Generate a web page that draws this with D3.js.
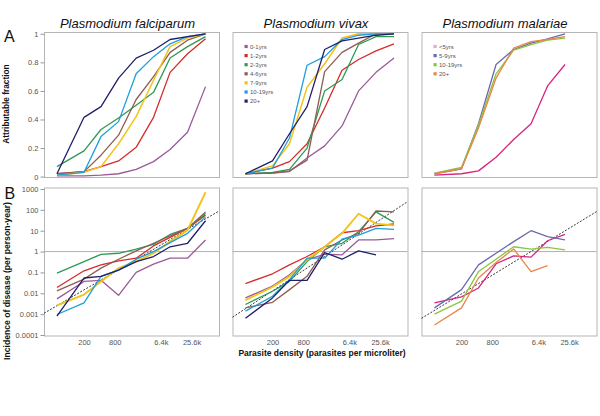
<!DOCTYPE html>
<html><head><meta charset="utf-8">
<script src="https://cdn.jsdelivr.net/npm/d3@7"></script>
<style>body{margin:0;background:#fff}svg{display:block;font-family:Arial,"Liberation Sans",sans-serif}</style>
</head><body><svg id="c" width="600" height="416"></svg>
<script>
// ---------- data ----------
const density = [59, 200, 430, 950, 2100, 4600, 9700, 21300, 48000];
const xTickValues = [200, 800, 6400, 25600];
const xTickLabels = ["200", "800", "6.4k", "25.6k"];
const fracTicks = [0, 0.2, 0.4, 0.6, 0.8, 1];
const fracTickLabels = ["0", "0.2", "0.4", "0.6", "0.8", "1"];
const incTicks = [0.0001, 0.001, 0.01, 0.1, 1, 10, 100, 1000];
const incTickLabels = ["0.0001", "0.001", "0.01", "0.1", "1", "10", "100", "1000"];

const speciesNames = ["Plasmodium falciparum", "Plasmodium vivax", "Plasmodium malariae"];

const ageGroupsPfPv = ["0-1yrs", "1-2yrs", "2-3yrs", "4-6yrs", "7-9yrs", "10-19yrs", "20+"];
const colorsPfPv = ["#9a5a98", "#d52b2b", "#2e9a52", "#8e5c52", "#f3c31a", "#1d9fdb", "#1f1f6c"];
const ageGroupsPm = ["<5yrs", "5-9yrs", "10-19yrs", "20+"];
const colorsPm = ["#d4257f", "#6a6aae", "#8cc63e", "#e8854a"];
const legendColorsPm = ["#eaa6cc", "#6a6aae", "#8cc63e", "#e8854a"];

const pfFraction = [
  [0.005, 0.005, 0.01, 0.02, 0.05, 0.105, 0.19, 0.31, 0.63],
  [0.02, 0.035, 0.07, 0.11, 0.205, 0.415, 0.73, 0.86, 0.965],
  [0.07, 0.18, 0.33, 0.41, 0.5, 0.59, 0.83, 0.91, 0.98],
  [0.02, 0.035, 0.15, 0.29, 0.54, 0.70, 0.87, 0.955, 1.0],
  [0.01, 0.03, 0.07, 0.23, 0.42, 0.675, 0.91, 0.97, 1.0],
  [0.01, 0.03, 0.28, 0.385, 0.72, 0.84, 0.93, 0.98, 1.0],
  [0.02, 0.415, 0.49, 0.69, 0.83, 0.885, 0.96, 0.98, 1.0]
];
const pfIncidence = [
  [0.0054, 0.037, 0.042, 0.008, 0.1, 0.25, 0.48, 0.48, 3.6],
  [0.019, 0.12, 0.23, 0.36, 0.48, 1.86, 4.8, 12.9, 56],
  [0.093, 0.33, 0.74, 0.83, 1.3, 2.2, 6.6, 12.9, 67],
  [0.013, 0.048, 0.16, 0.43, 1.08, 2.5, 5.6, 12.9, 80],
  [0.0026, 0.0087, 0.037, 0.16, 0.33, 0.83, 3, 10.7, 700],
  [0.00096, 0.0035, 0.065, 0.13, 0.43, 1.0, 2.7, 7.5, 46],
  [0.0008, 0.054, 0.065, 0.13, 0.33, 0.58, 1.7, 2.5, 30]
];
const pvFraction = [
  [0.02, 0.025, 0.035, 0.13, 0.215, 0.355, 0.6, 0.73, 0.83],
  [0.02, 0.06, 0.105, 0.23, 0.48, 0.745, 0.82, 0.88, 0.93],
  [0.02, 0.03, 0.05, 0.2, 0.6, 0.68, 0.925, 0.98, 0.98],
  [0.02, 0.025, 0.04, 0.115, 0.735, 0.87, 0.935, 1.0, 1.0],
  [0.02, 0.075, 0.23, 0.625, 0.79, 0.97, 1.0, 1.0, 1.0],
  [0.02, 0.06, 0.27, 0.78, 0.84, 0.96, 0.99, 1.0, 1.0],
  [0.02, 0.11, 0.30, 0.49, 0.89, 0.95, 0.97, 0.99, 1.0]
];
const pvIncidence = [
  [0.006, 0.022, 0.078, 0.4, 0.75, 0.7, 3.6, 3.6, 4.2],
  [0.029, 0.086, 0.23, 0.58, 1.7, 8, 10, 17, 21],
  [0.0029, 0.0125, 0.037, 0.33, 1.7, 2.5, 8.9, 80, 25],
  [0.002, 0.0037, 0.015, 0.065, 1.2, 3.6, 7.5, 88, 80],
  [0.0047, 0.02, 0.065, 0.4, 1.7, 7.5, 65, 22, 18],
  [0.0014, 0.0072, 0.045, 0.48, 0.48, 3.9, 6.2, 12.9, 11.6],
  [0.00063, 0.006, 0.042, 0.042, 0.9, 0.43, 1.08, 0.7, null]
];
const pmFraction = [
  [0.01, 0.02, 0.04, 0.135, 0.26, 0.37, 0.635, 0.785],
  [0.02, 0.055, 0.37, 0.785, 0.89, 0.935, 0.965, 1.0],
  [0.025, 0.065, 0.36, 0.72, 0.885, 0.925, 0.955, 0.97],
  [0.02, 0.055, 0.34, 0.69, 0.9, 0.945, 0.96, 0.98]
];
const pmIncidence = [
  [0.0035, 0.0067, 0.018, 0.26, 0.62, 0.54, 3.3, 6.7],
  [0.002, 0.015, 0.23, 0.83, 3, 10, 5.2, 3.6],
  [0.001, 0.0042, 0.11, 0.43, 1.7, 1.3, 1.6, 1.2],
  [0.0003, 0.002, 0.054, 0.3, 1.34, 0.11, 0.21, null]
];
// dashed reference line: incidence at the two ends of the density axis
const refDensity = [32.9, 88100];
const refLinePf = [0.0011, 88];
const refLinePv = [0.00071, 246];
const refLinePm = [0.00063, 82];

// ---------- layout ----------
const svg = d3.select("#c");
const panelX = [44, 232.5, 421.5];
const panelW = 175;
const topBox = [32, 177];
const botBox = [187.5, 335.5];

const panels = [
  {frac: pfFraction, inc: pfIncidence, ref: refLinePf, colors: colorsPfPv, groups: ageGroupsPfPv, legend: null},
  {frac: pvFraction, inc: pvIncidence, ref: refLinePv, colors: colorsPfPv, groups: ageGroupsPfPv, legend: colorsPfPv},
  {frac: pmFraction, inc: pmIncidence, ref: refLinePm, colors: colorsPm, groups: ageGroupsPm, legend: legendColorsPm}
];

const yFrac = d3.scaleLinear().domain([0, 1]).range([176.6, 33.8]);
const yInc = d3.scaleLog().domain([0.0001, 1000]).range([335, 189]);

panels.forEach((p, i) => {
  const x0 = panelX[i];
  const x = d3.scaleLog().base(2).domain([32.9, 88100]).range([x0, x0 + panelW]);
  const g = svg.append("g");

  // title
  g.append("text").attr("x", x0 + panelW / 2 - 4).attr("y", 28)
    .attr("text-anchor", "middle").attr("font-size", 13).attr("font-style", "italic")
    .attr("fill", "#111").text(speciesNames[i]);

  // boxes
  g.append("rect").attr("x", x0 + 0.5).attr("y", topBox[0] + 0.5).attr("width", panelW).attr("height", topBox[1] - topBox[0])
    .attr("fill", "none").attr("stroke", "#b5b5b5");
  g.append("rect").attr("x", x0 + 0.5).attr("y", botBox[0] + 0.5).attr("width", panelW).attr("height", botBox[1] - botBox[0])
    .attr("fill", "none").attr("stroke", "#b5b5b5");

  // horizontal line at incidence 1
  g.append("line").attr("x1", x0).attr("x2", x0 + panelW).attr("y1", yInc(1)).attr("y2", yInc(1))
    .attr("stroke", "#b0b0b0").attr("stroke-width", 1);

  // dashed reference line
  g.append("path").datum(refDensity.map((d, k) => [d, p.ref[k]]))
    .attr("d", d3.line().x(d => x(d[0])).y(d => yInc(d[1])))
    .attr("stroke", "#222").attr("stroke-width", 0.9).attr("stroke-dasharray", "2,1.5").attr("fill", "none");

  const lineFrac = d3.line().defined(d => d[1] != null).x(d => x(d[0])).y(d => yFrac(d[1]));
  const lineInc = d3.line().defined(d => d[1] != null).x(d => x(d[0])).y(d => yInc(d[1]));

  p.frac.forEach((s, k) => {
    g.append("path").datum(s.map((v, j) => [density[j], v]))
      .attr("d", lineFrac).attr("fill", "none").attr("stroke", p.colors[k])
      .attr("stroke-width", p.colors[k] === "#f3c31a" ? 1.5 : 1.3).attr("stroke-linejoin", "round");
  });
  p.inc.forEach((s, k) => {
    g.append("path").datum(s.map((v, j) => [density[j], v]))
      .attr("d", lineInc).attr("fill", "none").attr("stroke", p.colors[k])
      .attr("stroke-width", p.colors[k] === "#f3c31a" ? 1.9 : 1.3).attr("stroke-linejoin", "round");
  });

  // x axis tick labels
  const xa = d3.axisBottom(x).tickValues(xTickValues).tickFormat((d, k) => xTickLabels[k]).tickSize(0).tickPadding(4);
  const ax = g.append("g").attr("transform", `translate(0,${botBox[1] + 0.5})`).call(xa);
  ax.select(".domain").remove();
  ax.selectAll("text").attr("font-size", 7.5).attr("fill", "#555").attr("font-family", "Arial, 'Liberation Sans', sans-serif");

  // legend
  if (p.legend) {
    const lg = g.append("g");
    p.groups.forEach((name, k) => {
      const ly = 46.5 + k * 9.1;
      lg.append("rect").attr("x", x0 + 12).attr("y", ly - 1.6).attr("width", 3.2).attr("height", 3.2).attr("fill", p.legend[k]);
      lg.append("text").attr("x", x0 + 17.5).attr("y", ly + 2).attr("font-size", 6).attr("fill", "#555").text(name);
    });
  }

  // y axes on left panels only
  if (i === 0) {
    const yaF = d3.axisLeft(yFrac).tickValues(fracTicks).tickFormat((d, k) => fracTickLabels[k]).tickSize(4).tickPadding(2);
    const a1 = g.append("g").attr("transform", `translate(${x0 + 0.5},0)`).call(yaF);
    a1.select(".domain").remove();
    a1.selectAll("line").attr("stroke", "#999");
    a1.selectAll("text").attr("font-size", 7.5).attr("fill", "#555").attr("font-family", "Arial, 'Liberation Sans', sans-serif");
    const yaI = d3.axisLeft(yInc).tickValues(incTicks).tickFormat((d, k) => incTickLabels[k]).tickSize(4).tickPadding(2);
    const a2 = g.append("g").attr("transform", `translate(${x0 + 0.5},0)`).call(yaI);
    a2.select(".domain").remove();
    a2.selectAll("line").attr("stroke", "#999");
    a2.selectAll("text").attr("font-size", 7.5).attr("fill", "#555").attr("font-family", "Arial, 'Liberation Sans', sans-serif");
  }
});

// panel letters
svg.append("text").attr("x", 4).attr("y", 41.5).attr("font-size", 16).attr("fill", "#111").text("A");
svg.append("text").attr("x", 4.5).attr("y", 198.5).attr("font-size", 16).attr("fill", "#111").text("B");

// axis titles
svg.append("text").attr("transform", "translate(9,104) rotate(-90)").attr("text-anchor", "middle")
  .attr("font-size", 8.3).attr("font-weight", "bold").attr("fill", "#111").text("Attributable fraction");
svg.append("text").attr("transform", "translate(10,281) rotate(-90)").attr("text-anchor", "middle")
  .attr("font-size", 8.8).attr("font-weight", "bold").attr("fill", "#111")
  .attr("textLength", 158).attr("lengthAdjust", "spacingAndGlyphs")
  .text("Incidence of disease (per person-year)");
svg.append("text").attr("x", 322).attr("y", 356).attr("text-anchor", "middle")
  .attr("font-size", 8.5).attr("font-weight", "bold").attr("fill", "#111").text("Parasite density (parasites per microliter)");
</script></body></html>
